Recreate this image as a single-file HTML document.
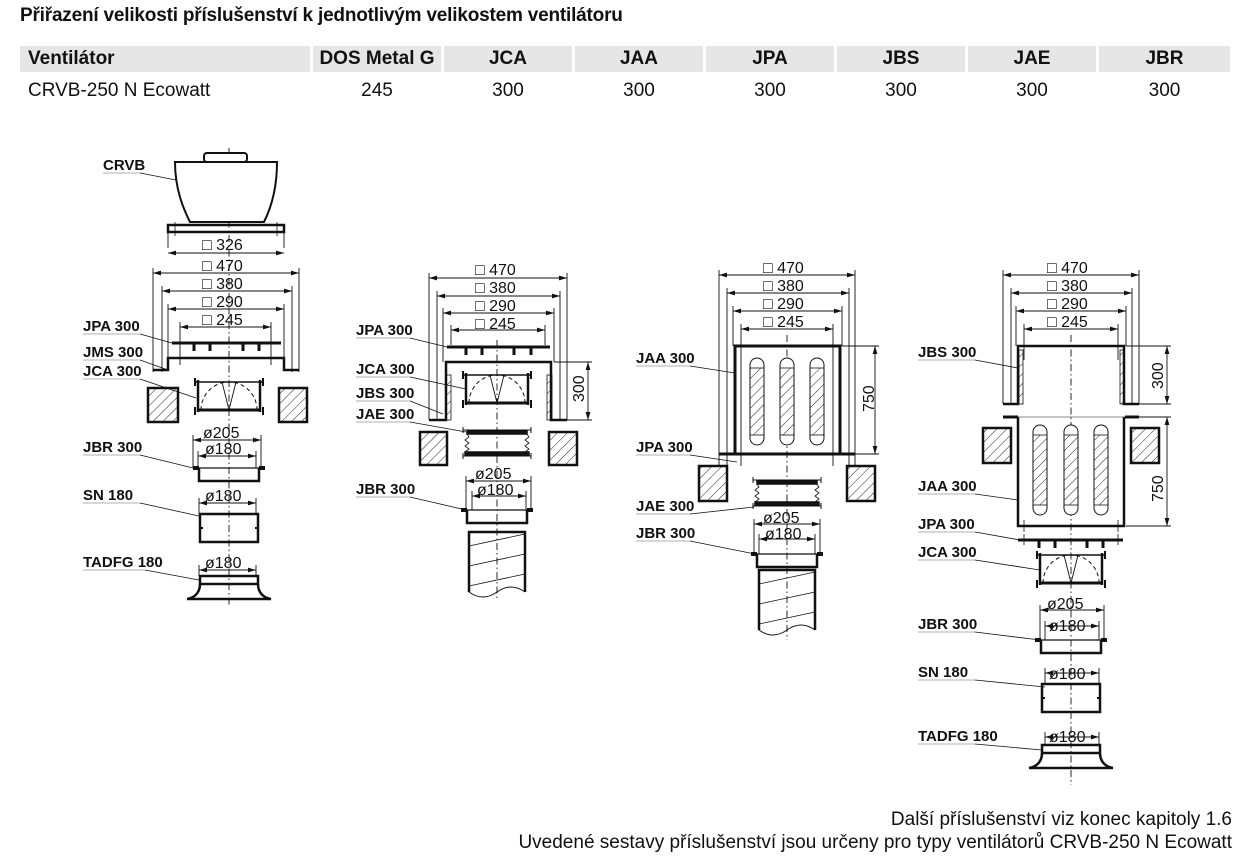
<!DOCTYPE html>
<html><head><meta charset="utf-8">
<style>
html,body{margin:0;padding:0;background:#fff;}
body{width:1241px;height:860px;overflow:hidden;position:relative;font-family:"Liberation Sans Narrow","Liberation Sans",sans-serif;color:#111;}
.t{position:absolute;white-space:nowrap;}
#title{left:20px;top:5px;font-size:19px;font-weight:bold;letter-spacing:-0.2px;}
table{position:absolute;left:20px;top:46px;border-collapse:separate;border-spacing:3px 0;margin-left:-3px;}
td{font-size:19px;height:26px;padding:0;text-align:center;}
tr.h td{background:#e6e6e6;font-weight:bold;}
tr.r td{height:38px;}
.foot{right:9px;font-size:19px;text-align:right;}
svg{position:absolute;left:0;top:0;}
svg text{font-family:"Liberation Sans Narrow","Liberation Sans",sans-serif;fill:#111;}
.lb{font-size:15px;font-weight:bold;}
.dm{font-size:16px;}
</style></head><body>
<div class="t" id="title">Přiřazení velikosti příslušenství k jednotlivým velikostem ventilátoru</div>
<table>
<tr class="h"><td style="text-align:left;padding-left:8px;width:282px">Ventilátor</td><td style="width:128px">DOS Metal G</td><td style="width:128px">JCA</td><td style="width:128px">JAA</td><td style="width:128px">JPA</td><td style="width:128px">JBS</td><td style="width:128px">JAE</td><td style="width:131px">JBR</td></tr>
<tr class="r"><td style="text-align:left;padding-left:8px">CRVB-250 N Ecowatt</td><td>245</td><td>300</td><td>300</td><td>300</td><td>300</td><td>300</td><td>300</td></tr>
</table>
<div class="t foot" style="top:809px">Další příslušenství viz konec kapitoly 1.6</div>
<div class="t foot" style="top:832px">Uvedené sestavy příslušenství jsou určeny pro typy ventilátorů CRVB-250 N Ecowatt</div>

<svg id="s" width="1241" height="860" viewBox="0 0 1241 860">
<defs>
<pattern id="h" width="7" height="7" patternUnits="userSpaceOnUse" patternTransform="rotate(45)"><line x1="0" y1="0" x2="0" y2="7" stroke="#222" stroke-width="1"/></pattern>
<marker id="a" viewBox="0 0 10 6" refX="10" refY="3" markerWidth="8" markerHeight="5" orient="auto-start-reverse" markerUnits="userSpaceOnUse"><path d="M0,0 L10,3 L0,6 Z" fill="#111"/></marker>
</defs>
<g id="g" fill="none" stroke="#111"></g>
<text class="lb" x="103" y="170">CRVB</text>
<text class="lb" x="83" y="331">JPA 300</text>
<text class="lb" x="83" y="357">JMS 300</text>
<text class="lb" x="83" y="376">JCA 300</text>
<text class="lb" x="83" y="452">JBR 300</text>
<text class="lb" x="83" y="500">SN 180</text>
<text class="lb" x="83" y="567">TADFG 180</text>
<text class="dm" x="202" y="250">□ 326</text>
<text class="dm" x="202" y="271">□ 470</text>
<text class="dm" x="202" y="289">□ 380</text>
<text class="dm" x="202" y="307">□ 290</text>
<text class="dm" x="202" y="325">□ 245</text>
<text class="dm" x="203" y="438">ø205</text>
<text class="dm" x="205" y="454">ø180</text>
<text class="dm" x="205" y="501">ø180</text>
<text class="dm" x="205" y="568">ø180</text>
<text class="lb" x="356" y="335">JPA 300</text>
<text class="lb" x="356" y="374">JCA 300</text>
<text class="lb" x="356" y="398">JBS 300</text>
<text class="lb" x="356" y="419">JAE 300</text>
<text class="lb" x="356" y="494">JBR 300</text>
<text class="dm" x="475" y="275">□ 470</text>
<text class="dm" x="475" y="293">□ 380</text>
<text class="dm" x="475" y="311">□ 290</text>
<text class="dm" x="475" y="329">□ 245</text>
<text class="dm" x="475" y="479">ø205</text>
<text class="dm" x="477" y="495">ø180</text>
<text class="dm" transform="translate(584,402) rotate(-90)">300</text>
<text class="lb" x="636" y="363">JAA 300</text>
<text class="lb" x="636" y="452">JPA 300</text>
<text class="lb" x="636" y="511">JAE 300</text>
<text class="lb" x="636" y="538">JBR 300</text>
<text class="dm" x="763" y="273">□ 470</text>
<text class="dm" x="763" y="291">□ 380</text>
<text class="dm" x="763" y="309">□ 290</text>
<text class="dm" x="763" y="327">□ 245</text>
<text class="dm" x="763" y="523">ø205</text>
<text class="dm" x="765" y="539">ø180</text>
<text class="dm" transform="translate(874,412) rotate(-90)">750</text>
<text class="lb" x="918" y="357">JBS 300</text>
<text class="lb" x="918" y="491">JAA 300</text>
<text class="lb" x="918" y="529">JPA 300</text>
<text class="lb" x="918" y="557">JCA 300</text>
<text class="lb" x="918" y="629">JBR 300</text>
<text class="lb" x="918" y="677">SN 180</text>
<text class="lb" x="918" y="741">TADFG 180</text>
<text class="dm" x="1047" y="273">□ 470</text>
<text class="dm" x="1047" y="291">□ 380</text>
<text class="dm" x="1047" y="309">□ 290</text>
<text class="dm" x="1047" y="327">□ 245</text>
<text class="dm" x="1047" y="609">ø205</text>
<text class="dm" x="1049" y="631">ø180</text>
<text class="dm" x="1049" y="679">ø180</text>
<text class="dm" x="1049" y="742">ø180</text>
<text class="dm" transform="translate(1163,389) rotate(-90)">300</text>
<text class="dm" transform="translate(1163,502) rotate(-90)">750</text>
</svg>
<script>
var G=document.getElementById('g'),NS='http://www.w3.org/2000/svg';
function el(t,a){var e=document.createElementNS(NS,t);for(var k in a)e.setAttribute(k,a[k]);G.appendChild(e);return e;}
function L(x1,y1,x2,y2,w,extra){var a={x1:x1,y1:y1,x2:x2,y2:y2,'stroke-width':w||1};if(extra)for(var k in extra)a[k]=extra[k];return el('line',a);}
function P(d,w,f){return el('path',{d:d,'stroke-width':w||1,fill:f||'none'});}
function R(x,y,w,h,sw,f){return el('rect',{x:x,y:y,width:w,height:h,'stroke-width':sw||1,fill:f||'none'});}
function dimH(x1,x2,y,ext){L(x1,y,x2,y,0.9,{'marker-start':'url(#a)','marker-end':'url(#a)'});L(x1,y-5,x1,ext,0.9);L(x2,y-5,x2,ext,0.9);}
function dimV(x,y1,y2,xf){L(x,y1,x,y2,0.9,{'marker-start':'url(#a)','marker-end':'url(#a)'});L(xf,y1,x+4,y1,0.9);L(xf,y2,x+4,y2,0.9);}
function cl(x,y1,y2){L(x,y1,x,y2,0.9,{'stroke-dasharray':'7 3 1.5 3'});}
function lead(lx,ly,ux,tx,ty){L(lx,ly,ux,ly,0.8,{stroke:'#999'});L(ux,ly,tx,ty,0.8);}
function wall(x,y,w,h){R(x,y,w,h,2.5,'url(#h)');}
function tabs(y,xs){xs.forEach(function(x){L(x,y,x,y+7,3);});}
function jca(cx,y){L(cx-31,y,cx-31,y+32,2.5);L(cx+31,y,cx+31,y+32,2.5);L(cx-31,y+30,cx+31,y+30,3);L(cx-34,y+2,cx+34,y+2,1.5);
 L(cx-34,y-2,cx-34,y+6,2);L(cx+34,y-2,cx+34,y+6,2);L(cx-34,y+27,cx-34,y+35,2);L(cx+34,y+27,cx+34,y+35,2);
 P('M'+(cx-28)+','+(y+30)+' A28,28 0 0 1 '+(cx+28)+','+(y+30),1,'none').setAttribute('stroke-dasharray','4 3');
 P('M'+(cx-7)+','+(y+2)+' L'+cx+','+(y+30)+' L'+(cx+7)+','+(y+2),0.9);}
function jbr(cx,y){L(cx-36,y,cx+36,y,1.2);L(cx-36,y,cx-30,y,4);L(cx+30,y,cx+36,y,4);P('M'+(cx-30)+','+y+' V'+(y+13)+' H'+(cx+30)+' V'+y,2.5);}
function sn(cx,y){R(cx-29,y,58,28,2.5);L(cx-29,y+14,cx-26,y+14,2);L(cx+26,y+14,cx+29,y+14,2);}
function tad(cx,y){R(cx-29,y,58,8,2.5);P('M'+(cx-29)+','+(y+8)+' C'+(cx-29)+','+(y+18)+' '+(cx-36)+','+(y+22)+' '+(cx-42)+','+(y+23)+' H'+(cx+42)+' C'+(cx+36)+','+(y+22)+' '+(cx+29)+','+(y+18)+' '+(cx+29)+','+(y+8),2.5);}
function jae(cx,y){L(cx-34,y,cx+34,y,1);R(cx-30,y+1,60,3,1.5,'#111');
 var zl='M'+(cx-30)+','+(y+4),zr='M'+(cx+30)+','+(y+4);for(var i=1;i<=6;i++){var o=(i%2?2:-2);zl+=' L'+(cx-30+o)+','+(y+4+i*3);zr+=' L'+(cx+30+o)+','+(y+4+i*3);}
 P(zl,0.8);P(zr,0.8);R(cx-32,y+22,64,3,1.5,'#111');L(cx-34,y+26,cx+34,y+26,1);
 L(cx-34,y-3,cx-34,y+3,1);L(cx+34,y-3,cx+34,y+3,1);L(cx-34,y+23,cx-34,y+29,1);L(cx+34,y+23,cx+34,y+29,1);}
function duct(cx,y){P('M'+(cx-28)+','+(y+60)+' V'+y+' H'+(cx+28)+' V'+(y+60),2.5);
 P('M'+(cx-28)+','+(y+60)+' Q'+(cx-14)+','+(y+70)+' '+cx+','+(y+60)+' Q'+(cx+14)+','+(y+50)+' '+(cx+28)+','+(y+60),1);
 [8,28,48].forEach(function(d){L(cx-28,y+d+6,cx+28,y+d-6,0.8);});}
function slots(xs,y,h){xs.forEach(function(x){R(x-7,y,14,h,1,'#fff').setAttribute('rx',7);R(x-7,y+10,14,h-20,0.8,'url(#h)');});}
function dims4(a,ys,ext){for(var i=0;i<4;i++)dimH(a[i][0],a[i][1],ys[i],ext[i]);}

var c=229;cl(c,148,606);
R(204,153,43,9,2,'#fff').setAttribute('rx',3);
P('M175,162 L277,162 C277,190 270,210 264,222 L190,222 C184,210 175,190 175,162 Z',2,'#fff');
R(168,225,116,7,2.5);L(175,222,175,236,0.8);L(277,222,277,236,0.8);
dimH(168,284,253,232);
dims4([[153,299],[162,292],[168,284],[180,271]],[273,291,309,327],[372,372,360,365]);
L(172,343,281,343,3);tabs(344,[194,210,243,259]);
P('M153,370 H168 V358 H284 V370 H299',2.5);
jca(c,380);wall(148,388,30,34);wall(279,388,28,34);
dimH(193,261,440,468);dimH(198,256,456,468);jbr(c,468);
dimH(199,256,503,514);sn(c,514);dimH(199,256,570,576);tad(c,576);
lead(103,173,140,176,180);lead(83,334,140,172,343);lead(83,360,140,168,370);lead(83,379,140,196,398);
lead(83,455,140,193,468);lead(83,503,140,199,516);lead(83,570,145,199,580);

c=497;cl(c,340,600);
dims4([[429,567],[437,560],[443,554],[451,545]],[278,296,313,330],[420,420,362,345]);
L(447,347,550,347,3);tabs(348,[466,482,514,531]);
P('M429,420 H446 V362 H551 V420 H567',2.5);
R(446,375,5,45,0.8,'url(#h)');R(547,375,5,45,0.8,'url(#h)');
jca(c,373);jae(c,430);wall(420,432,27,33);wall(549,432,28,33);
dimV(588,362,420,554);
dimH(466,531,481,510);dimH(472,526,496,510);jbr(c,510);duct(c,532);
lead(356,338,410,447,347);lead(356,377,410,466,389);lead(356,401,410,443,414);lead(356,422,410,466,432);lead(356,497,410,466,510);

c=787;cl(c,335,640);
dims4([[719,855],[727,849],[733,842],[741,833]],[275,293,311,329],[466,466,346,466]);
R(735,346,105,108,3);L(719,454,747,454,3);L(827,454,855,454,3);
slots([757,787,817],358,87);dimV(875,346,454,842);
wall(699,466,28,35);wall(847,466,28,35);jae(c,480);
dimH(754,820,524,554);dimH(759,815,539,554);jbr(c,554);duct(c,570);
lead(636,366,690,735,373);lead(636,455,690,737,462);lead(636,514,690,754,507);lead(636,541,690,755,554);

c=1071;cl(c,335,785);
dims4([[1003,1139],[1011,1132],[1016,1126],[1024,1118]],[275,293,311,329],[404,404,346,360]);
P('M1003,404 H1018 V346 H1124 V404 H1139',2.5);
R(1019,350,4,54,0.8,'url(#h)');R(1120,350,4,54,0.8,'url(#h)');
dimV(1167,346,404,1126);
L(1003,417,1018,417,3);L(1125,417,1139,417,3);L(1018,417,1125,417,1,{stroke:'#888'});
P('M1018,417 V526 H1124 V417',2.5);
wall(983,428,28,35);wall(1131,428,28,35);slots([1040,1071,1101],425,90);
dimV(1167,417,526,1126);
L(1024,520,1024,545,0.8,{'stroke-dasharray':'5 2'});L(1118,520,1118,545,0.8,{'stroke-dasharray':'5 2'});
L(1018,540,1123,540,3);tabs(541,[1039,1055,1087,1103]);
jca(c,553);dimH(1040,1104,610,640);dimH(1045,1099,626,640);jbr(c,640);
dimH(1045,1099,673,684);sn(c,684);dimH(1045,1099,737,745);tad(c,745);
lead(918,360,975,1018,368);lead(918,494,975,1018,500);lead(918,532,975,1020,540);lead(918,560,975,1040,570);
lead(918,632,975,1040,640);lead(918,680,975,1045,687);lead(918,744,975,1042,750);
</script>
</body></html>
